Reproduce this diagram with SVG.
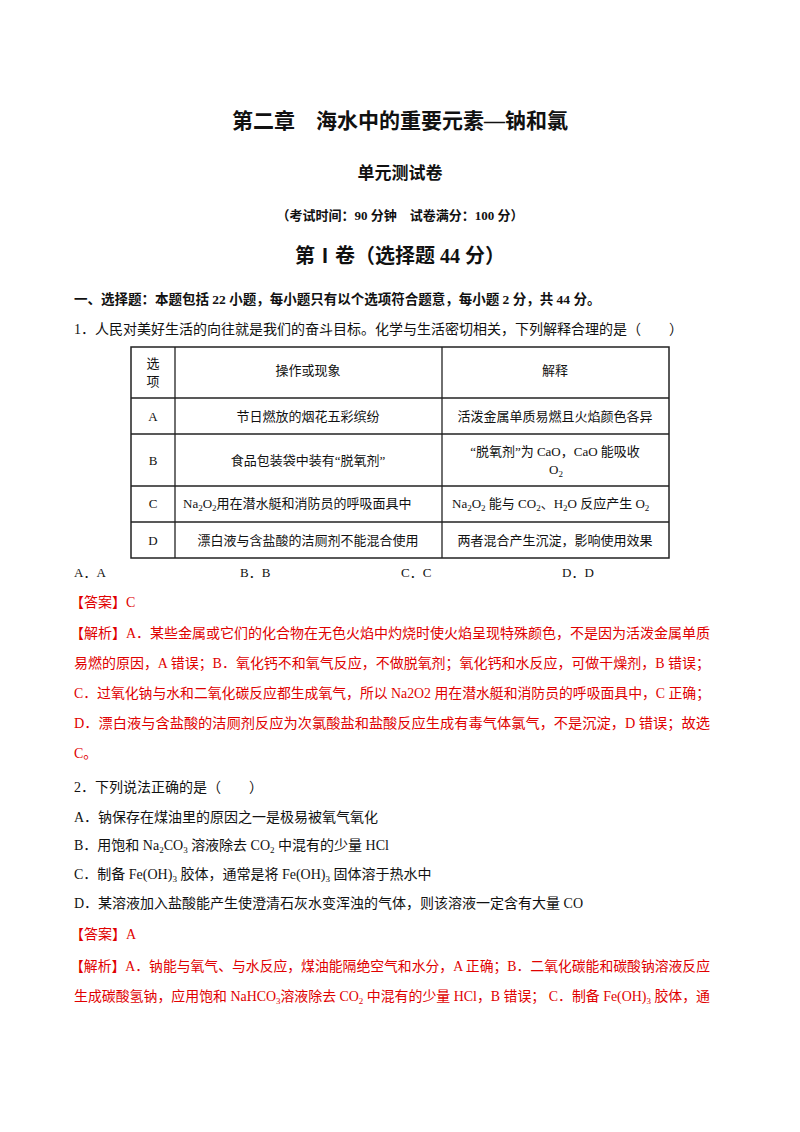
<svg xmlns="http://www.w3.org/2000/svg" width="800" height="1132" viewBox="0 0 800 1132">
<style>
text{font-family:"Liberation Serif","Noto Sans CJK SC",serif;font-size:14px;fill:#111}
.b{font-weight:bold}
.r{fill:#e00000}
.c{text-anchor:middle}
.s{font-size:9px}
line{stroke:#222;stroke-width:1.3}
</style>
<rect width="800" height="1132" fill="#fff"/>
<g id="header">
<text class="b c" x="400" y="128" font-size="21" style="font-size:21px">第二章　海水中的重要元素—钠和氯</text>
<text class="b c" x="400" y="179" style="font-size:17px">单元测试卷</text>
<text class="b c" x="400" y="220" style="font-size:13px">（考试时间：90 分钟　试卷满分：100 分）</text>
<text class="b c" x="400" y="263" style="font-size:20px">第Ⅰ卷（选择题 44 分）</text>
<text class="b" x="74" y="304" style="font-size:13.5px">一、选择题：本题包括 22 小题，每小题只有以个选项符合题意，每小题 2 分，共 44 分。</text>
</g>
<g id="q1">
<text x="74" y="334">1．人民对美好生活的向往就是我们的奋斗目标。化学与生活密切相关，下列解释合理的是（　　）</text>
<g id="table">
<rect x="131" y="347" width="538" height="211" fill="none" stroke="#222" stroke-width="1.5"/>
<line x1="175" y1="347" x2="175" y2="558"/><line x1="442" y1="347" x2="442" y2="558"/>
<line x1="131" y1="398" x2="669" y2="398"/><line x1="131" y1="434" x2="669" y2="434"/>
<line x1="131" y1="486" x2="669" y2="486"/><line x1="131" y1="522" x2="669" y2="522"/>
<text class="c" x="153" y="368" style="font-size:13px">选</text><text class="c" x="153" y="386" style="font-size:13px">项</text>
<text class="c" x="308" y="375" style="font-size:13px">操作或现象</text>
<text class="c" x="555" y="375" style="font-size:13px">解释</text>
<text class="c" x="153" y="421" style="font-size:13px">A</text>
<text class="c" x="308" y="421" style="font-size:13px">节日燃放的烟花五彩缤纷</text>
<text class="c" x="555" y="421" style="font-size:13px">活泼金属单质易燃且火焰颜色各异</text>
<text class="c" x="153" y="465" style="font-size:13px">B</text>
<text class="c" x="308" y="465" style="font-size:13px">食品包装袋中装有“脱氧剂”</text>
<text class="c" x="555" y="456" style="font-size:13px">“脱氧剂”为 CaO，CaO 能吸收</text>
<text x="549" y="474" style="font-size:13px">O<tspan class="s" dy="3">2</tspan></text>
<text class="c" x="153" y="508" style="font-size:13px">C</text>
<text x="183" y="508" style="font-size:13px">Na<tspan class="s" dy="3">2</tspan><tspan dy="-3">O</tspan><tspan class="s" dy="3">2</tspan><tspan dy="-3">用在潜水艇和消防员的呼吸面具中</tspan></text>
<text x="452" y="508" style="font-size:13px">Na<tspan class="s" dy="3">2</tspan><tspan dy="-3">O</tspan><tspan class="s" dy="3">2</tspan><tspan dy="-3"> 能与 CO</tspan><tspan class="s" dy="3">2</tspan><tspan dy="-3">、H</tspan><tspan class="s" dy="3">2</tspan><tspan dy="-3">O 反应产生 O</tspan><tspan class="s" dy="3">2</tspan></text>
<text class="c" x="153" y="545" style="font-size:13px">D</text>
<text class="c" x="308" y="545" style="font-size:13px">漂白液与含盐酸的洁厕剂不能混合使用</text>
<text class="c" x="555" y="545" style="font-size:13px">两者混合产生沉淀，影响使用效果</text>
</g>
<text x="74" y="577" style="font-size:13px">A．A</text>
<text x="240" y="577" style="font-size:13px">B．B</text>
<text x="401" y="577" style="font-size:13px">C．C</text>
<text x="562" y="577" style="font-size:13px">D．D</text>
<text class="r" x="70" y="607">【答案】C</text>
<text class="r" x="70" y="638" textLength="640" lengthAdjust="spacingAndGlyphs">【解析】A．某些金属或它们的化合物在无色火焰中灼烧时使火焰呈现特殊颜色，不是因为活泼金属单质</text>
<text class="r" x="74" y="668" textLength="636" lengthAdjust="spacingAndGlyphs">易燃的原因，A 错误；B．氧化钙不和氧气反应，不做脱氧剂；氧化钙和水反应，可做干燥剂，B 错误；</text>
<text class="r" x="74" y="698" textLength="636" lengthAdjust="spacingAndGlyphs">C．过氧化钠与水和二氧化碳反应都生成氧气，所以 Na2O2 用在潜水艇和消防员的呼吸面具中，C 正确；</text>
<text class="r" x="74" y="728" textLength="636" lengthAdjust="spacingAndGlyphs">D．漂白液与含盐酸的洁厕剂反应为次氯酸盐和盐酸反应生成有毒气体氯气，不是沉淀，D 错误；故选</text>
<text class="r" x="74" y="758">C。</text>
</g>
<g id="q2">
<text x="74" y="792">2．下列说法正确的是（　　）</text>
<text x="74" y="822">A．钠保存在煤油里的原因之一是极易被氧气氧化</text>
<text x="74" y="850">B．用饱和 Na<tspan class="s" dy="3">2</tspan><tspan dy="-3">CO</tspan><tspan class="s" dy="3">3</tspan><tspan dy="-3"> 溶液除去 CO</tspan><tspan class="s" dy="3">2</tspan><tspan dy="-3"> 中混有的少量 HCl</tspan></text>
<text x="74" y="879">C．制备 Fe(OH)<tspan class="s" dy="3">3</tspan><tspan dy="-3"> 胶体，通常是将 Fe(OH)</tspan><tspan class="s" dy="3">3</tspan><tspan dy="-3"> 固体溶于热水中</tspan></text>
<text x="74" y="908">D．某溶液加入盐酸能产生使澄清石灰水变浑浊的气体，则该溶液一定含有大量 CO</text>
<text class="r" x="70" y="939">【答案】A</text>
<text class="r" x="70" y="971" textLength="640" lengthAdjust="spacingAndGlyphs">【解析】A．钠能与氧气、与水反应，煤油能隔绝空气和水分，A 正确；B．二氧化碳能和碳酸钠溶液反应</text>
<text class="r" x="74" y="1001" textLength="636" lengthAdjust="spacingAndGlyphs">生成碳酸氢钠，应用饱和 NaHCO<tspan class="s" dy="3">3</tspan><tspan dy="-3">溶液除去 CO</tspan><tspan class="s" dy="3">2</tspan><tspan dy="-3"> 中混有的少量 HCl，B 错误；  C．制备 Fe(OH)</tspan><tspan class="s" dy="3">3</tspan><tspan dy="-3"> 胶体，通</tspan></text>
</g>
</svg>
